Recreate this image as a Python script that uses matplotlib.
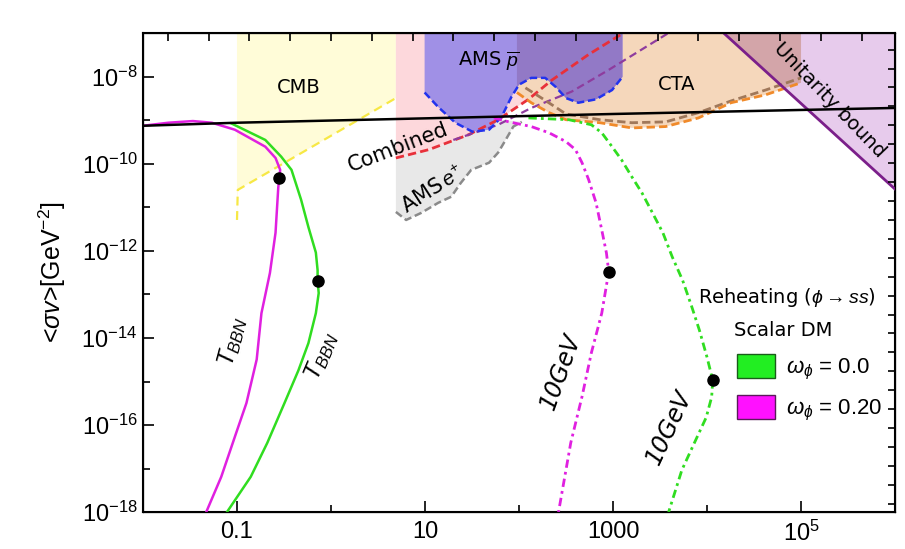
import numpy as np
import matplotlib
matplotlib.use('Agg')
import matplotlib.pyplot as plt
from matplotlib.patches import Patch
from matplotlib.ticker import FixedLocator, NullLocator, NullFormatter

plt.rcParams['font.family'] = ['Liberation Sans', 'DejaVu Sans']
plt.rcParams['mathtext.fontset'] = 'custom'
plt.rcParams['mathtext.rm'] = 'Liberation Sans'
plt.rcParams['mathtext.it'] = 'Liberation Sans:italic'
plt.rcParams['mathtext.bf'] = 'Liberation Sans:bold'

TOP = 1e-7  # upper edge of the plot, regions are filled up to here

# thermal relic line
relic_x = [1e-2, 0.1, 1e3, 1e6]
relic_y = [7.4e-10, 8.7e-10, 1.38e-9, 1.9e-9]

# T_BBN curves (solid)
bbn20_x = [0.01, 0.0186, 0.034, 0.054, 0.095, 0.20, 0.257, 0.288, 0.282, 0.275,
           0.257, 0.224, 0.182, 0.162, 0.126, 0.098, 0.068, 0.047]
bbn20_y = [7.4e-10, 8.7e-10, 9.5e-10, 8.7e-10, 6.0e-10, 2.45e-10, 1.35e-10, 7.2e-11,
           4.7e-11, 2.9e-11, 2.6e-12, 3.1e-13, 3.7e-14, 3.2e-15, 3.2e-16, 6.6e-17,
           6.5e-18, 1e-18]
bbn0_x = [0.087, 0.20, 0.295, 0.38, 0.48, 0.575, 0.69, 0.72, 0.72, 0.74,
          0.69, 0.575, 0.45, 0.32, 0.21, 0.14, 0.078]
bbn0_y = [8.4e-10, 3.5e-10, 1.45e-10, 7.2e-11, 1.5e-11, 3.5e-12, 9.1e-13,
          3.6e-13, 2.0e-13, 1.07e-13, 3.7e-14, 7.6e-15, 1.8e-15, 3.2e-16, 3.9e-17,
          6.5e-18, 1e-18]

# 10 GeV curves (dash-dot)
gev20_x = [54, 78, 135, 209, 316, 398, 468, 550, 660, 759, 851, 900, 759, 589,
           468, 355, 263]
gev20_y = [1.12e-9, 9.1e-10, 7.1e-10, 5.1e-10, 3.2e-10, 2.1e-10, 1.05e-10, 4.3e-11,
           1.26e-11, 3.0e-12, 8.9e-13, 3.3e-13, 3.7e-14, 4.6e-15, 4.5e-16, 3.9e-17,
           1e-18]
gev0_x = [126, 339, 589, 759, 977, 1230, 1585, 2040, 2630, 3390, 4270, 5500, 6900,
          8300, 1.0e4, 1.15e4, 1.12e4, 9800, 7600, 5400, 3900]
gev0_y = [1.12e-9, 1.02e-9, 7.8e-10, 5.1e-10, 2.45e-10, 1.23e-10, 5.0e-11, 2.1e-11,
          7.4e-12, 2.6e-12, 7.2e-13, 2.1e-13, 5.1e-14, 1.5e-14, 3.6e-15, 1.07e-15,
          4.4e-16, 1.5e-16, 4.6e-17, 9.3e-18, 1e-18]

# black dots
dot_x = [0.282, 0.72, 900, 1.15e4]
dot_y = [4.7e-11, 2.0e-13, 3.3e-13, 1.07e-15]

# experimental limits
cmb_x = [0.1, 0.102, 4.9]
cmb_y = [5.1e-12, 2.5e-11, 3.2e-9]
comb_x = [4.9, 11, 29, 60, 126, 224, 550, 1290]
comb_y = [1.35e-10, 2.1e-10, 4.6e-10, 1.02e-9, 3.0e-9, 8.3e-9, 3.2e-8, 1e-7]
comb2_x = [20, 60, 135, 363, 890, 3900]
comb2_y = [3.5e-10, 7.8e-10, 1.9e-9, 4.5e-9, 1.4e-8, 1e-7]
amse_x = [4.9, 6.3, 9.1, 13.8, 19, 24, 31, 48, 60, 72, 87, 107]
amse_y = [7.8e-12, 5.1e-12, 7.4e-12, 1.26e-11, 1.74e-11, 3.6e-11, 7.2e-11, 1.05e-10,
          1.8e-10, 3.5e-10, 7.1e-10, 9.1e-10]
amsp_x = [9.9, 13.8, 21, 32, 48, 65, 83, 100, 135, 190, 245, 316, 427, 660, 977, 1260]
amsp_y = [4.3e-9, 2.0e-9, 8.7e-10, 5.4e-10, 6.0e-10, 1.17e-9, 3.4e-9, 6.5e-9, 9.3e-9,
          9.3e-9, 5.8e-9, 3.2e-9, 2.5e-9, 3.0e-9, 4.9e-9, 9.8e-9]
cta_x = [95, 135, 209, 316, 724, 1585, 3630, 8100, 1.8e4, 4.2e4, 1e5]
cta_y = [4.3e-9, 2.5e-9, 1.48e-9, 1.02e-9, 8.7e-10, 6.6e-10, 7.1e-10, 1.12e-9,
         2.5e-9, 3.8e-9, 7.2e-9]
cta2_x = [117, 174, 316, 724, 1585, 3630, 8100, 1.8e4, 4.2e4, 1e5]
cta2_y = [5.5e-9, 3.2e-9, 1.38e-9, 1.02e-9, 8.7e-10, 9.1e-10, 1.48e-9, 2.75e-9,
          4.9e-9, 9.3e-9]
unit_x = [1.5e4, 1e6]
unit_y = [1e-7, 2.6e-11]


def upto_top(xs, ys):
    return list(xs) + [xs[-1], xs[0]], list(ys) + [TOP, TOP]


fig = plt.figure(figsize=(9.05, 5.49), dpi=100)
ax = fig.add_axes([0.158, 0.067, 0.831, 0.873])
ax.set_xscale('log')
ax.set_yscale('log')
ax.set_xlim(1e-2, 1e6)
ax.set_ylim(1e-18, TOP)

# shaded regions
gx = amse_x + comb_x[3::-1]
gy = amse_y + comb_y[3::-1]
ax.fill(gx, gy, color='#E8E8E8', lw=0, zorder=1)
ax.fill(*upto_top(cmb_x, cmb_y), color='#FFFCD8', lw=0, zorder=1)
ax.fill(*upto_top(comb_x, comb_y), color='#FDD8DC', lw=0, zorder=1)
cta_patch = ax.fill(*upto_top(cta_x, cta_y), color='#F5D7BB', lw=0, zorder=1.5)[0]
ax.fill(*upto_top(amsp_x, amsp_y), color='#A090E6', lw=0, zorder=2)
dark = ax.fill(*upto_top(amsp_x, amsp_y), color='#9279C6', lw=0, zorder=2.1)[0]
dark.set_clip_path(cta_patch)
ux, uy = list(unit_x) + [1e6], list(unit_y) + [TOP]
ax.fill(ux, uy, color='#E7CBEC', lw=0, zorder=2)
rose = ax.fill(ux, uy, color='#D3A5A9', lw=0, zorder=2.1)[0]
rose.set_clip_path(cta_patch)

# limit boundaries
ax.plot(cmb_x, cmb_y, color='#F7E845', lw=1.6, ls=(0, (4, 2.5)), zorder=3)
ax.plot(amse_x, amse_y, color='#8A8A8A', lw=1.8, ls=(0, (3, 1.5)), zorder=3)
ax.plot(comb_x, comb_y, color='#E8303A', lw=2, ls=(0, (3, 1.5)), zorder=3)
ax.plot(comb2_x, comb2_y, color='#8E3C9E', lw=1.6, ls=(0, (3.5, 2)), zorder=3)
ax.plot(amsp_x, amsp_y, color='#2233EE', lw=1.8, ls=(0, (3, 1.5)), zorder=3)
ax.plot(cta2_x, cta2_y, color='#A0785A', lw=2, ls=(0, (3, 1.5)), zorder=3)
ax.plot(cta_x, cta_y, color='#F08A2A', lw=2, ls=(0, (3, 1.5)), zorder=3)
ax.plot(unit_x, unit_y, color='#7B1F8A', lw=2, zorder=3)

# reheating curves
ax.plot(bbn20_x, bbn20_y, color='#E020E0', lw=1.8, zorder=4)
ax.plot(bbn0_x, bbn0_y, color='#30DD20', lw=1.8, zorder=4)
ax.plot(gev20_x, gev20_y, color='#E020E0', lw=2, ls=(0, (3, 1.5, 1, 1.5)), zorder=4)
ax.plot(gev0_x, gev0_y, color='#30DD20', lw=2, ls=(0, (3, 1.5, 1, 1.5)), zorder=4)
ax.plot(relic_x, relic_y, color='black', lw=1.8, zorder=5)
ax.plot(dot_x, dot_y, 'o', color='black', ms=8, zorder=6)

# labels in the plot
kw = dict(ha='center', va='center', rotation_mode='anchor', zorder=7,
          family=['DejaVu Sans'])
ax.text(0.45, 5.5e-9, 'CMB', fontsize=14, **kw)
ax.text(48, 2.2e-8, r'AMS $\overline{p}$', fontsize=14, **kw)
ax.text(4800, 6.5e-9, 'CTA', fontsize=14, **kw)
ax.text(5.2, 2.3e-10, 'Combined', fontsize=15, rotation=21, **kw)
ax.text(12.3, 2.5e-11, r'AMS$\,e^{+}$', fontsize=15, rotation=33, **kw)
ax.text(2e5, 2.9e-9, 'Unitarity bound', fontsize=14, rotation=-46, **kw)
ax.text(0.089, 8.1e-15, r'$T_{BBN}$', fontsize=17, rotation=75, **kw)
ax.text(0.79, 3.8e-15, r'$T_{BBN}$', fontsize=17, rotation=67, **kw)
ax.text(280, 1.7e-15, '10GeV', fontsize=17, rotation=70, style='italic', **kw)
ax.text(4000, 9e-17, '10GeV', fontsize=17, rotation=65, style='italic', **kw)

# legend
ax.text(0.856, 0.449, r'Reheating ($\phi\rightarrow ss$)', transform=ax.transAxes,
        ha='center', va='center', fontsize=14, family=['DejaVu Sans'], zorder=8)
ax.text(0.851, 0.380, 'Scalar DM', transform=ax.transAxes, ha='center',
        va='center', fontsize=14, family=['DejaVu Sans'], zorder=8)
handles = [Patch(facecolor='#22EE22', edgecolor='#1A5C1A', label=r'$\omega_\phi$ = 0.0'),
           Patch(facecolor='#FF11FF', edgecolor='#5A1A5A', label=r'$\omega_\phi$ = 0.20')]
leg = ax.legend(handles=handles, loc='upper left', bbox_to_anchor=(0.79, 0.33),
                frameon=False, fontsize=16, handlelength=1.7, handleheight=1.25,
                labelspacing=0.6, handletextpad=0.5, borderpad=0, borderaxespad=0)
leg.set_zorder(8)

# axes styling
ax.set_xticks([0.1, 10, 1000, 1e5])
ax.set_xticklabels(['0.1', '10', '1000', '$10^{5}$'])
ax.xaxis.set_minor_locator(FixedLocator([1e-2, 1, 100, 1e4, 1e6]))
ax.xaxis.set_minor_formatter(NullFormatter())
ax.set_yticks([1e-18, 1e-16, 1e-14, 1e-12, 1e-10, 1e-8])
ax.set_yticklabels(['$10^{-18}$', '$10^{-16}$', '$10^{-14}$', '$10^{-12}$',
                    '$10^{-10}$', '$10^{-8}$'])
ax.yaxis.set_minor_locator(FixedLocator([1e-17, 1e-15, 1e-13, 1e-11, 1e-9]))
ax.yaxis.set_minor_formatter(NullFormatter())
ax.tick_params(which='both', direction='in', top=False, right=False, labelsize=17,
               width=1.2)
ax.tick_params(which='major', length=8)
ax.tick_params(which='minor', length=5)
ax.tick_params(axis='x', pad=6)
ax.tick_params(axis='y', pad=4)
for s in ax.spines.values():
    s.set_linewidth(1.5)
ax.set_ylabel(r'<$\sigma v$>[GeV$^{-2}$]', fontsize=18)
ax.yaxis.set_label_coords(-0.100, 0.5)

# frame ticks at powers of e on top and right
ax_t = ax.twiny()
ax_t.set_xscale('log')
ax_t.set_xlim(ax.get_xlim())
ax_t.xaxis.set_major_locator(FixedLocator(np.exp(np.arange(-4, 14))))
ax_t.xaxis.set_minor_locator(NullLocator())
ax_t.tick_params(direction='in', length=6, width=1.2, labeltop=False)
ax_r = ax.twinx()
ax_r.set_yscale('log')
ax_r.set_ylim(ax.get_ylim())
ax_r.yaxis.set_major_locator(FixedLocator(np.exp(np.arange(-41, -16))))
ax_r.yaxis.set_minor_locator(NullLocator())
ax_r.tick_params(direction='in', length=5, width=1.2, labelright=False)

fig.savefig('out.png', dpi=100)
